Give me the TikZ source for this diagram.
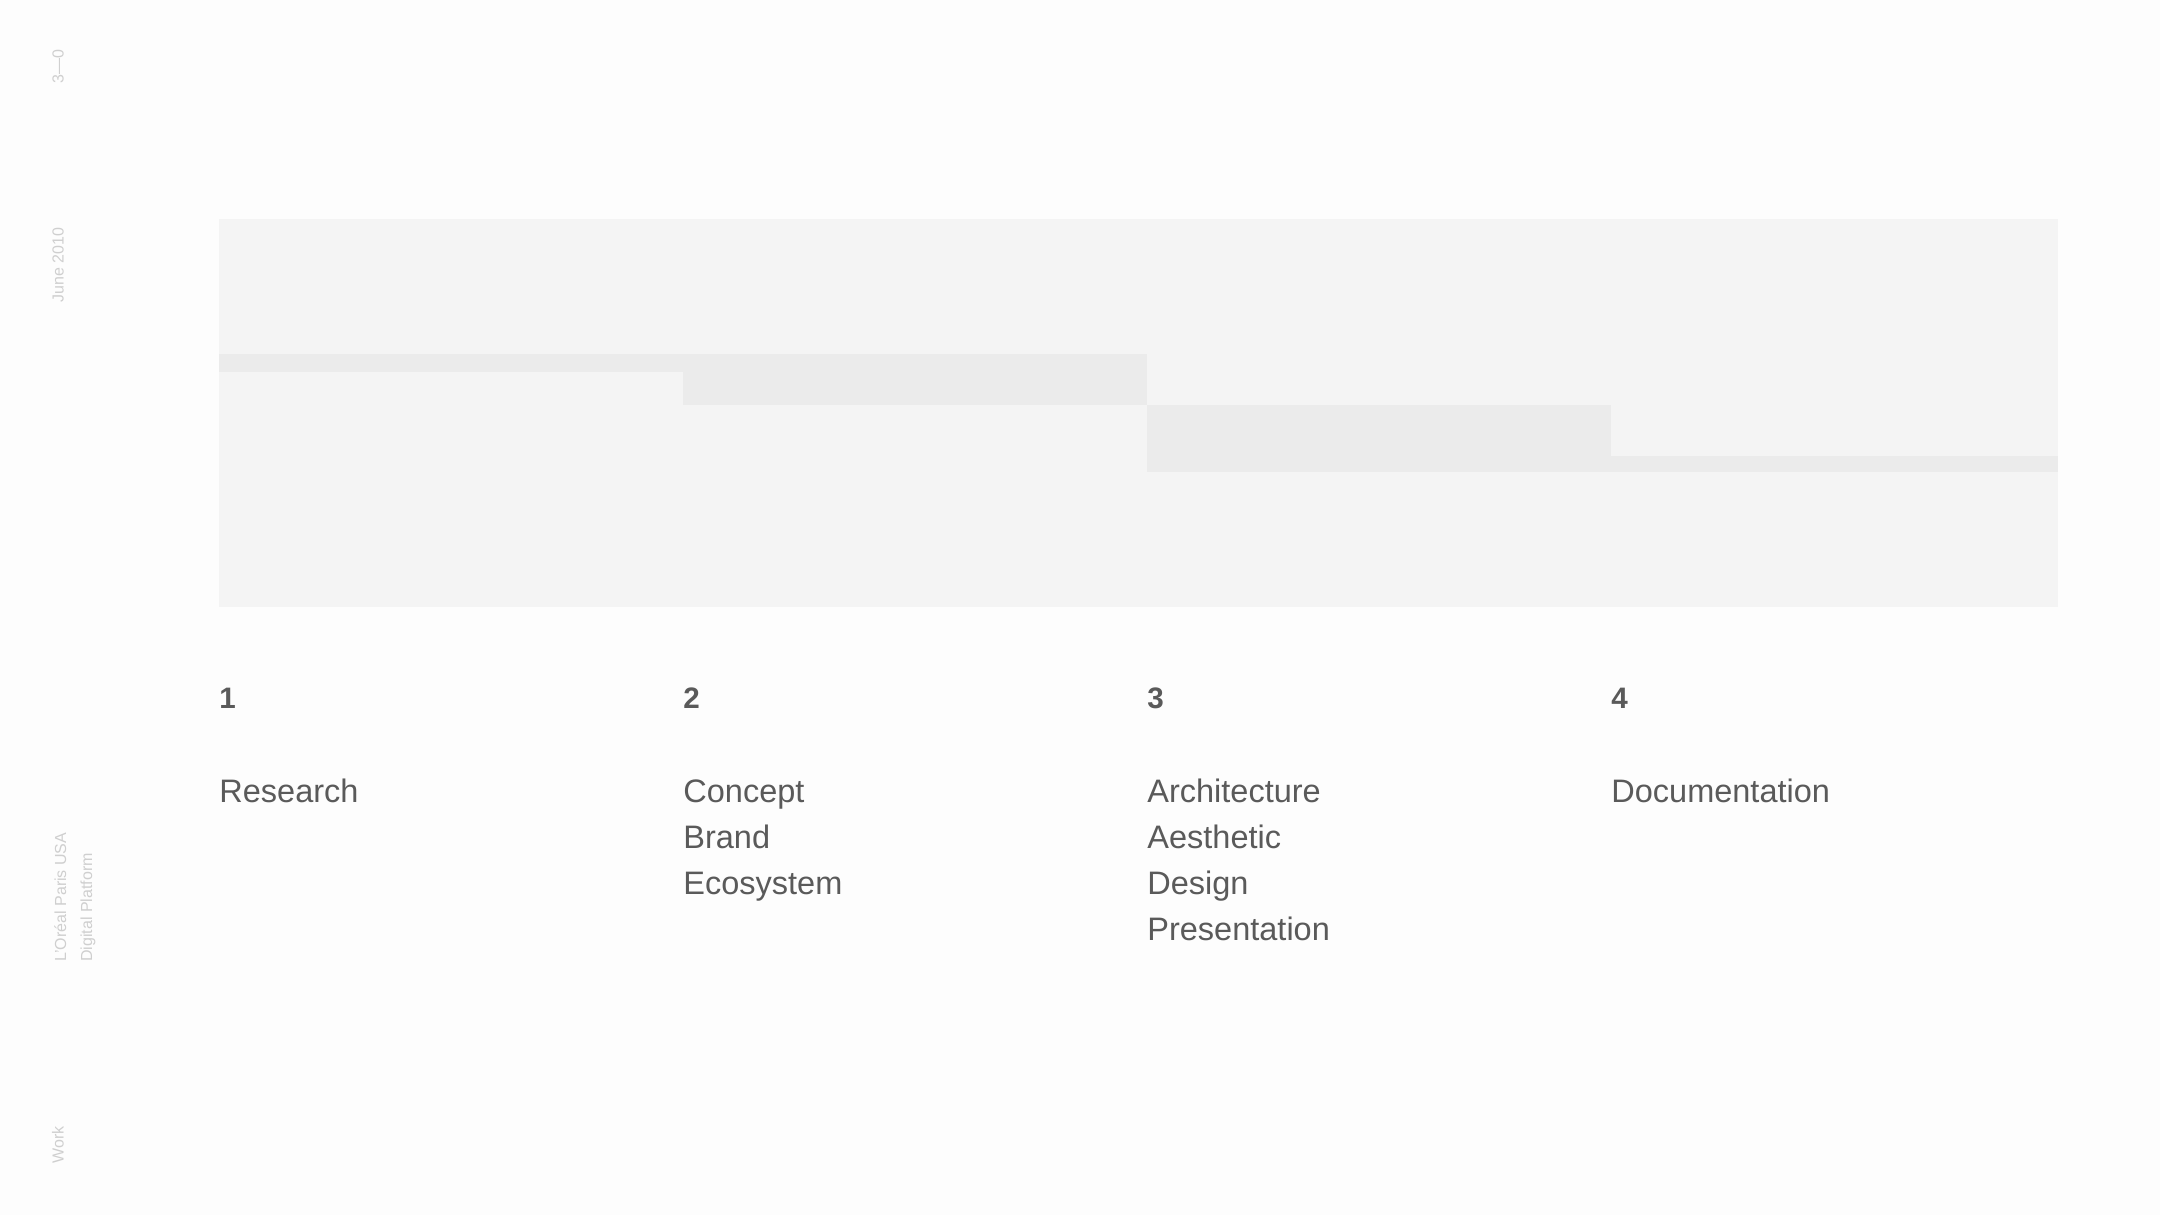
\documentclass[tikz,border=0pt]{standalone}
\usepackage{fontspec}
\setmainfont{Liberation Sans}
\definecolor{bgcol}{HTML}{FDFDFD}
\definecolor{panelcol}{HTML}{F4F4F4}
\definecolor{bandcol}{HTML}{EBEBEB}
\definecolor{txtcol}{HTML}{5A5A5A}
\definecolor{sidecol}{HTML}{CFCFCF}
\tikzset{
  numlabel/.style={anchor=base west, inner sep=0pt, text=txtcol, font=\fontsize{14.8}{17}\selectfont\bfseries},
  itemlabel/.style={anchor=base west, inner sep=0pt, text=txtcol, font=\fontsize{16.25}{20}\selectfont},
  sidelabel/.style={anchor=base west, inner sep=0pt, rotate=90, text=sidecol, font=\fontsize{8}{10}\selectfont},
}
\begin{document}
\begin{tikzpicture}[x=0.5pt, y=-0.5pt]
\fill[bgcol] (0,0) rectangle (2160,1215);
\useasboundingbox (0,0) rectangle (2160,1215);
% panel and bands
\fill[panelcol] (219,219) rectangle (2058,607);
\fill[bandcol] (219,354) rectangle (683,371.5);
\fill[bandcol] (683,354) rectangle (1147,405);
\fill[bandcol] (1147,405) rectangle (1611,472);
\fill[bandcol] (1611,455.5) rectangle (2058,472);
% numbers
\node[numlabel] (n1) at (219,708) {1};
\node[numlabel] (n2) at (683,708) {2};
\node[numlabel] (n3) at (1147,708) {3};
\node[numlabel] (n4) at (1611,708) {4};
% items
\node[itemlabel] (r1) at (219,802) {Research};
\node[itemlabel] (c1) at (683,802) {Concept};
\node[itemlabel] (c2) at (683,848) {Brand};
\node[itemlabel] (c3) at (683,894) {Ecosystem};
\node[itemlabel] (a1) at (1147,802) {Architecture};
\node[itemlabel] (a2) at (1147,848) {Aesthetic};
\node[itemlabel] (a3) at (1147,894) {Design};
\node[itemlabel] (a4) at (1147,940) {Presentation};
\node[itemlabel] (d1) at (1611,802) {Documentation};
% side labels
\node[sidelabel] (s1) at (63.5,84) {3—0};
\node[sidelabel] (s2) at (63.5,303) {June 2010};
\node[sidelabel] (s3) at (66,962) {L’Oréal Paris USA};
\node[sidelabel] (s4) at (92,962) {Digital Platform};
\node[sidelabel] (s5) at (63.5,1164) {Work};
\end{tikzpicture}
\end{document}
